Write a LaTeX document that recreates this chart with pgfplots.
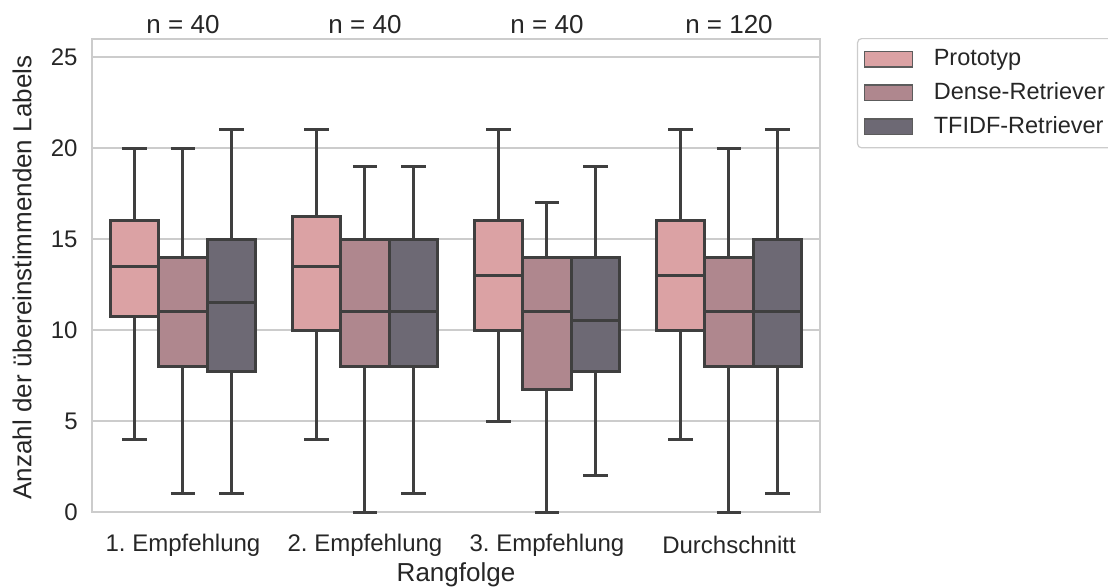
\documentclass[border=0pt]{standalone}
\usepackage{fontspec}
\setmainfont{Liberation Sans}
\usepackage{pgfplots}
\pgfplotsset{compat=1.18}
\usepgfplotslibrary{statistics}
\frenchspacing

\definecolor{cP}{RGB}{219,162,164}
\definecolor{cD}{RGB}{175,135,142}
\definecolor{cT}{RGB}{109,105,116}
\definecolor{edge}{RGB}{63,63,63}
\definecolor{gridc}{RGB}{204,204,204}
\definecolor{txt}{RGB}{38,38,38}

\pgfplotsset{
  bx/.style={draw=edge, line width=1.5pt, fill=#1, solid,
    boxplot/draw direction=y,
    boxplot/box extend=0.2667, boxplot/whisker extend=0.1333, forget plot},
}
\newcommand{\fs}{\fontsize{12}{14.4}\selectfont\frenchspacing}
\newcommand{\fl}{\fontsize{13}{15.6}\selectfont}
\newcommand{\fg}{\fontsize{11.75}{14.1}\selectfont}

\begin{document}
\begin{tikzpicture}
\begin{axis}[
  name=ax, at={(0,0)}, anchor=south west,
  scale only axis, width=364pt, height=236.5pt,
  xmin=-0.5, xmax=3.5, ymin=0, ymax=26,
  xtick={0,1,2,3},
  xticklabels={1. Empfehlung, 2. Empfehlung, 3. Empfehlung, Durchschnitt},
  ytick={0,5,10,15,20,25},
  ymajorgrids, grid style={gridc, line width=1pt},
  axis line style={gridc, line width=1pt},
  major tick length=0pt, tick style={draw=none},
  /pgf/number format/assume math mode=true,
  ticklabel style={font=\fs, text=txt},
  xticklabel style={anchor=center, yshift=-16.5pt},
  yticklabel style={anchor=east, inner xsep=0pt, xshift=-7pt},
  xlabel={Rangfolge}, ylabel={Anzahl der übereinstimmenden Labels},
  every axis x label/.style={at={(axis description cs:0.5,0)}, anchor=center, yshift=-31.5pt, font=\fl, text=txt},
  every axis y label/.style={at={(axis description cs:0,0.5)}, xshift=-35pt, yshift=-1pt, rotate=90, anchor=center, font=\fl, text=txt},
  clip=false,
  legend style={at={(1,1)}, anchor=north west, xshift=18.5pt, yshift=0.5pt,
    draw=gridc, line width=0.6pt, rounded corners=2pt, font=\fg, text=txt,
    inner xsep=3pt, inner ysep=3.5pt, row sep=3pt, cells={anchor=west}},
  legend image code/.code={\draw[#1, line width=0.6pt, sharp corners] (0pt,-3.9pt) rectangle (24pt,3.9pt); \path (32.5pt,0pt);},
]
% 1. Empfehlung
\addplot[bx=cP, boxplot prepared={draw position=-0.2667, lower whisker=4, lower quartile=10.75, median=13.5, upper quartile=16, upper whisker=20}] coordinates {};
\addplot[bx=cD, boxplot prepared={draw position=0, lower whisker=1, lower quartile=8, median=11, upper quartile=14, upper whisker=20}] coordinates {};
\addplot[bx=cT, boxplot prepared={draw position=0.2667, lower whisker=1, lower quartile=7.75, median=11.5, upper quartile=15, upper whisker=21}] coordinates {};
% 2. Empfehlung
\addplot[bx=cP, boxplot prepared={draw position=0.7333, lower whisker=4, lower quartile=10, median=13.5, upper quartile=16.25, upper whisker=21}] coordinates {};
\addplot[bx=cD, boxplot prepared={draw position=1, lower whisker=0, lower quartile=8, median=11, upper quartile=15, upper whisker=19}] coordinates {};
\addplot[bx=cT, boxplot prepared={draw position=1.2667, lower whisker=1, lower quartile=8, median=11, upper quartile=15, upper whisker=19}] coordinates {};
% 3. Empfehlung
\addplot[bx=cP, boxplot prepared={draw position=1.7333, lower whisker=5, lower quartile=10, median=13, upper quartile=16, upper whisker=21}] coordinates {};
\addplot[bx=cD, boxplot prepared={draw position=2, lower whisker=0, lower quartile=6.75, median=11, upper quartile=14, upper whisker=17}] coordinates {};
\addplot[bx=cT, boxplot prepared={draw position=2.2667, lower whisker=2, lower quartile=7.75, median=10.5, upper quartile=14, upper whisker=19}] coordinates {};
% Durchschnitt
\addplot[bx=cP, boxplot prepared={draw position=2.7333, lower whisker=4, lower quartile=10, median=13, upper quartile=16, upper whisker=21}] coordinates {};
\addplot[bx=cD, boxplot prepared={draw position=3, lower whisker=0, lower quartile=8, median=11, upper quartile=14, upper whisker=20}] coordinates {};
\addplot[bx=cT, boxplot prepared={draw position=3.2667, lower whisker=1, lower quartile=8, median=11, upper quartile=15, upper whisker=21}] coordinates {};

\addlegendimage{fill=cP, draw=edge!85}
\addlegendentry{Prototyp}
\addlegendimage{fill=cD, draw=edge!85}
\addlegendentry{Dense-Retriever}
\addlegendimage{fill=cT, draw=edge!85}
\addlegendentry{TFIDF-Retriever}

\node[anchor=base, font=\fl, text=txt, yshift=3pt] at (axis cs:0,26) {n = 40};
\node[anchor=base, font=\fl, text=txt, yshift=3pt] at (axis cs:1,26) {n = 40};
\node[anchor=base, font=\fl, text=txt, yshift=3pt] at (axis cs:2,26) {n = 40};
\node[anchor=base, font=\fl, text=txt, yshift=3pt] at (axis cs:3,26) {n = 120};
\end{axis}
\pgfresetboundingbox
\path[use as bounding box] (ax.south west) ++(-46pt,-37pt) rectangle ++(554pt,293pt);
\end{tikzpicture}
\end{document}
